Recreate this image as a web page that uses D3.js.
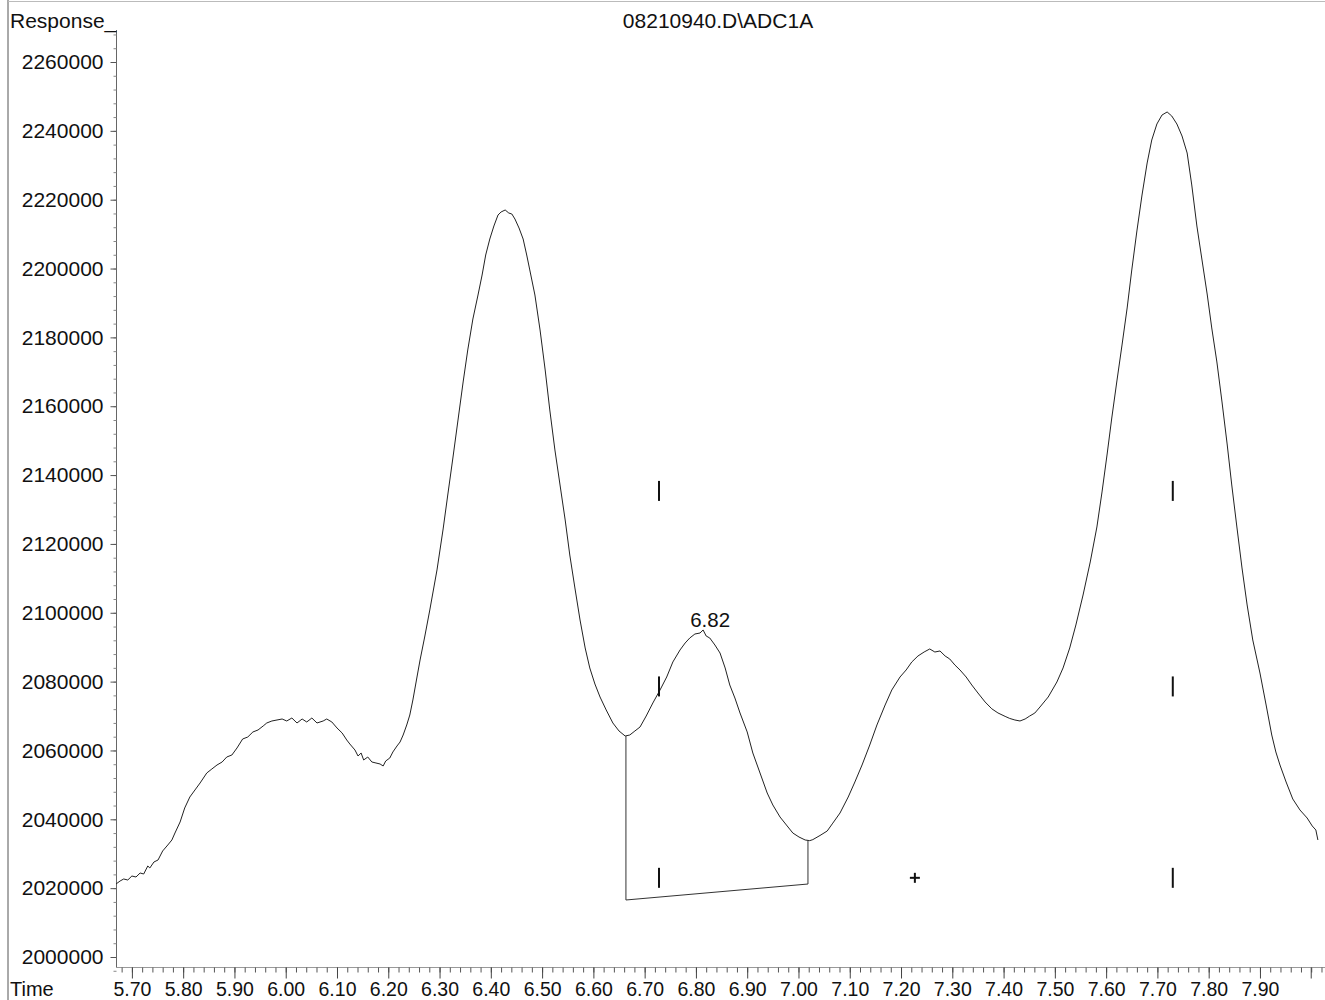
<!DOCTYPE html>
<html>
<head>
<meta charset="utf-8">
<script src="https://cdn.jsdelivr.net/npm/d3@7"></script>
<style>
  html, body { margin: 0; padding: 0; background: #fff; }
  svg { display: block; font-family: "Liberation Sans", Arial, sans-serif; }
</style>
</head>
<body>
<svg id="chart"></svg>
<script>
// signal (time in min, response in counts)
const times = [
  5.669, 5.677, 5.684, 5.692, 5.700, 5.708, 5.716, 5.723, 5.731, 5.735,
  5.743, 5.751, 5.760, 5.770, 5.778, 5.784, 5.794, 5.803, 5.813, 5.823,
  5.833, 5.846, 5.856, 5.866, 5.876, 5.885, 5.895, 5.905, 5.916, 5.926,
  5.936, 5.946, 5.956, 5.963, 5.973, 5.983, 5.993, 6.002, 6.012, 6.022,
  6.032, 6.041, 6.051, 6.061, 6.073, 6.080, 6.090, 6.100, 6.110, 6.119,
  6.125, 6.135, 6.141, 6.147, 6.152, 6.160, 6.168, 6.176, 6.184, 6.190,
  6.195, 6.203, 6.209, 6.217, 6.223, 6.229, 6.236, 6.242, 6.248, 6.256,
  6.262, 6.271, 6.281, 6.295, 6.307, 6.316, 6.326, 6.336, 6.346, 6.355,
  6.365, 6.375, 6.383, 6.390, 6.398, 6.406, 6.414, 6.420, 6.428, 6.435,
  6.441, 6.447, 6.455, 6.463, 6.470, 6.476, 6.486, 6.496, 6.506, 6.515,
  6.525, 6.535, 6.545, 6.554, 6.564, 6.574, 6.584, 6.593, 6.603, 6.613,
  6.625, 6.638, 6.650, 6.662, 6.671, 6.681, 6.691, 6.703, 6.716, 6.730,
  6.743, 6.755, 6.769, 6.779, 6.788, 6.798, 6.808, 6.814, 6.820, 6.827,
  6.837, 6.847, 6.857, 6.866, 6.876, 6.886, 6.900, 6.911, 6.925, 6.939,
  6.950, 6.964, 6.978, 6.989, 7.001, 7.013, 7.022, 7.028, 7.042, 7.056,
  7.067, 7.081, 7.097, 7.110, 7.124, 7.139, 7.153, 7.169, 7.182, 7.198,
  7.210, 7.221, 7.233, 7.245, 7.256, 7.266, 7.276, 7.286, 7.295, 7.305,
  7.315, 7.327, 7.338, 7.350, 7.364, 7.377, 7.389, 7.403, 7.412, 7.422,
  7.432, 7.442, 7.451, 7.461, 7.471, 7.487, 7.504, 7.516, 7.529, 7.541,
  7.555, 7.569, 7.582, 7.592, 7.602, 7.611, 7.621, 7.631, 7.641, 7.650,
  7.660, 7.670, 7.680, 7.689, 7.699, 7.709, 7.719, 7.728, 7.738, 7.748,
  7.758, 7.767, 7.777, 7.787, 7.797, 7.806, 7.816, 7.826, 7.836, 7.845,
  7.855, 7.865, 7.875, 7.886, 7.900, 7.912, 7.923, 7.931, 7.939, 7.951,
  7.964, 7.978, 7.992, 8.002, 8.009, 8.013
]
const response = [
  2021200, 2022080, 2022660, 2022370, 2023530, 2023240, 2024400, 2024110, 2026440, 2025860,
  2027600, 2028180, 2030800, 2032540, 2033990, 2036020, 2039220, 2043290, 2046480, 2048520,
  2050550, 2053450, 2054620, 2055780, 2056650, 2058100, 2058680, 2060720, 2063330, 2063910,
  2065370, 2065950, 2067110, 2067980, 2068560, 2068850, 2069140, 2068560, 2069430, 2067980,
  2069140, 2068270, 2069430, 2067980, 2068560, 2069140, 2068270, 2066530, 2065070, 2063040,
  2061880, 2060140, 2058390, 2059260, 2057230, 2058100, 2056650, 2056360, 2056070, 2055490,
  2056940, 2057810, 2059560, 2061300, 2062460, 2064490, 2067400, 2070300, 2074660, 2081340,
  2086280, 2092960, 2100810, 2112430, 2124340, 2134210, 2144960, 2156000, 2167040, 2176340,
  2185340, 2192310, 2198120, 2203930, 2208580, 2212360, 2215550, 2216430, 2217010, 2216130,
  2215840, 2214390, 2211780, 2208580, 2203930, 2199580, 2192310, 2182150, 2170530, 2158910,
  2147290, 2137120, 2126950, 2116780, 2107200, 2097900, 2089770, 2083960, 2079310, 2075530,
  2071760, 2067980, 2065660, 2064200, 2064490, 2065660, 2066820, 2070010, 2073790, 2077570,
  2081340, 2085700, 2089190, 2091220, 2092670, 2093830, 2094120, 2095000, 2093250, 2092670,
  2090640, 2088310, 2083960, 2079020, 2075240, 2070880, 2065370, 2059260, 2053450, 2047640,
  2044160, 2040670, 2038060, 2036020, 2034860, 2033990, 2033800, 2034100, 2035300, 2036600,
  2038900, 2041830, 2046480, 2050840, 2055780, 2061590, 2067400, 2073210, 2077570, 2081340,
  2083380, 2085700, 2087440, 2088600, 2089480, 2088600, 2088900, 2087440, 2086570, 2084830,
  2083380, 2081340, 2079020, 2076690, 2074080, 2072100, 2070900, 2069900, 2069300, 2068850,
  2068560, 2069140, 2070010, 2070880, 2072630, 2075530, 2079890, 2083960, 2089770, 2096450,
  2105160, 2114750, 2124920, 2135090, 2146120, 2156580, 2167330, 2177790, 2188540, 2199580,
  2210910, 2221360, 2230660, 2237340, 2241990, 2244600, 2245480, 2244310, 2241990, 2238500,
  2233560, 2224270, 2212360, 2202480, 2192600, 2182730, 2172850, 2161230, 2149030, 2137120,
  2124920, 2113010, 2102260, 2092090, 2082500, 2073210, 2064490, 2059560, 2055780, 2050840,
  2045900, 2042710, 2040380, 2038060, 2036900, 2033990
]

// integration baseline of the 6.82 peak
const baseTimes = [6.6635, 6.6635, 7.0185, 7.0185]
const baseValues = [2064200, 2016560, 2021200, 2033990]

const peakLabel = "6.82"
const peakTime = 6.82
const peakValue = 2094120

// event marks
const markTimes = [6.728, 7.730]
const markLevels = [2135400, 2078600, 2023000]
const plusMark = [7.227, 2023000]

const yTicks = d3.range(2000000, 2260001, 20000)
const yMinor = d3.range(1996000, 2268001, 4000)
const xMajor = d3.range(5.7, 7.95, 0.1)
const xMinor = d3.range(5.68, 8.025, 0.02)

const title = "08210940.D\\ADC1A"

const W = 1325, H = 1000
const FONT = '"Liberation Sans", Arial, sans-serif'

const svg = d3.select('#chart')
  .attr('width', W)
  .attr('height', H)

svg.append('rect').attr('width', W).attr('height', H).attr('fill', '#fff')

// page frame (scan edges)
svg.append('line').attr('x1', 8).attr('x2', 8).attr('y1', 0).attr('y2', H)
  .attr('stroke', '#555').attr('stroke-width', 1)
svg.append('line').attr('x1', 8).attr('x2', W).attr('y1', 1.5).attr('y2', 1.5)
  .attr('stroke', '#bbb').attr('stroke-width', 1)

// scales
const x = d3.scaleLinear().domain([5.669, 8.021]).range([116, 1322])
const y = d3.scaleLinear().domain([2000000, 2260000]).range([957, 62])

// y axis
svg.append('line').attr('x1', 116.5).attr('x2', 116.5).attr('y1', 30).attr('y2', 967)
  .attr('stroke', '#666')

const yMinorAxis = d3.axisLeft(y).tickValues(yMinor).tickSize(3).tickFormat('')
svg.append('g')
  .attr('transform', 'translate(116.5,0)')
  .call(yMinorAxis)
  .call(g => g.select('.domain').remove())
  .call(g => g.selectAll('line').attr('stroke', '#888'))

const yAxis = d3.axisLeft(y).tickValues(yTicks).tickSize(6).tickPadding(7)
  .tickFormat(d3.format('d'))
svg.append('g')
  .attr('transform', 'translate(116.5,0)')
  .call(yAxis)
  .call(g => g.select('.domain').remove())
  .call(g => g.selectAll('line').attr('stroke', '#555'))
  .call(g => g.selectAll('text').attr('font-size', '21px').attr('fill', '#111')
    .attr('font-family', FONT))

// x axis
svg.append('line').attr('x1', 116).attr('x2', W).attr('y1', 967.5).attr('y2', 967.5)
  .attr('stroke', '#999')

const xMinorAxis = d3.axisBottom(x).tickValues(xMinor).tickSize(5).tickFormat('')
svg.append('g')
  .attr('transform', 'translate(0,967.5)')
  .call(xMinorAxis)
  .call(g => g.select('.domain').remove())
  .call(g => g.selectAll('line').attr('stroke', '#555'))

const xAxis = d3.axisBottom(x).tickValues(xMajor).tickSize(11).tickPadding(8)
  .tickFormat(d3.format('.2f'))
svg.append('g')
  .attr('transform', 'translate(0,967.5)')
  .call(xAxis)
  .call(g => g.select('.domain').remove())
  .call(g => g.selectAll('line').attr('stroke', '#444'))
  .call(g => g.selectAll('text').attr('font-size', '19.5px').attr('fill', '#111')
    .attr('dy', 0).attr('y', 28.5)
    .attr('font-family', FONT))
// tick at 8.00 without a label
svg.append('line')
  .attr('x1', x(8.0)).attr('x2', x(8.0)).attr('y1', 967.5).attr('y2', 978.5)
  .attr('stroke', '#444')

// texts
svg.append('text').attr('x', 10).attr('y', 28).attr('font-size', '21px')
  .attr('fill', '#111').text('Response_')
svg.append('text').attr('x', 10).attr('y', 996).attr('font-size', '20px')
  .attr('fill', '#111').text('Time')
svg.append('text').attr('x', 718).attr('y', 28).attr('font-size', '21px')
  .attr('text-anchor', 'middle').attr('fill', '#111').text(title)

// signal
const line = d3.line()
  .x((d, i) => x(times[i]))
  .y(d => y(d))

svg.append('path')
  .datum(response)
  .attr('d', line)
  .attr('fill', 'none')
  .attr('stroke', '#222')
  .attr('stroke-width', 1)

// baseline
svg.append('path')
  .datum(baseValues)
  .attr('d', d3.line().x((d, i) => x(baseTimes[i])).y(d => y(d)))
  .attr('fill', 'none')
  .attr('stroke', '#333')
  .attr('stroke-width', 1)

// peak label
svg.append('text')
  .attr('x', x(peakTime) + 4)
  .attr('y', y(peakValue) - 6)
  .attr('text-anchor', 'middle')
  .attr('font-size', '20.5px')
  .attr('fill', '#111')
  .text(peakLabel)

// event marks
const marks = markTimes.flatMap(t => markLevels.map(v => ({ t, v })))
svg.selectAll('line.mark')
  .data(marks)
  .join('line')
  .attr('class', 'mark')
  .attr('x1', d => x(d.t)).attr('x2', d => x(d.t))
  .attr('y1', d => y(d.v) - 10).attr('y2', d => y(d.v) + 10)
  .attr('stroke', '#111')
  .attr('stroke-width', 2)

svg.append('g')
  .attr('transform', `translate(${x(plusMark[0])},${y(plusMark[1])})`)
  .call(g => {
    g.append('line').attr('x1', -5).attr('x2', 5).attr('stroke', '#111').attr('stroke-width', 2)
    g.append('line').attr('y1', -5).attr('y2', 5).attr('stroke', '#111').attr('stroke-width', 2)
  })
</script>
</body>
</html>
